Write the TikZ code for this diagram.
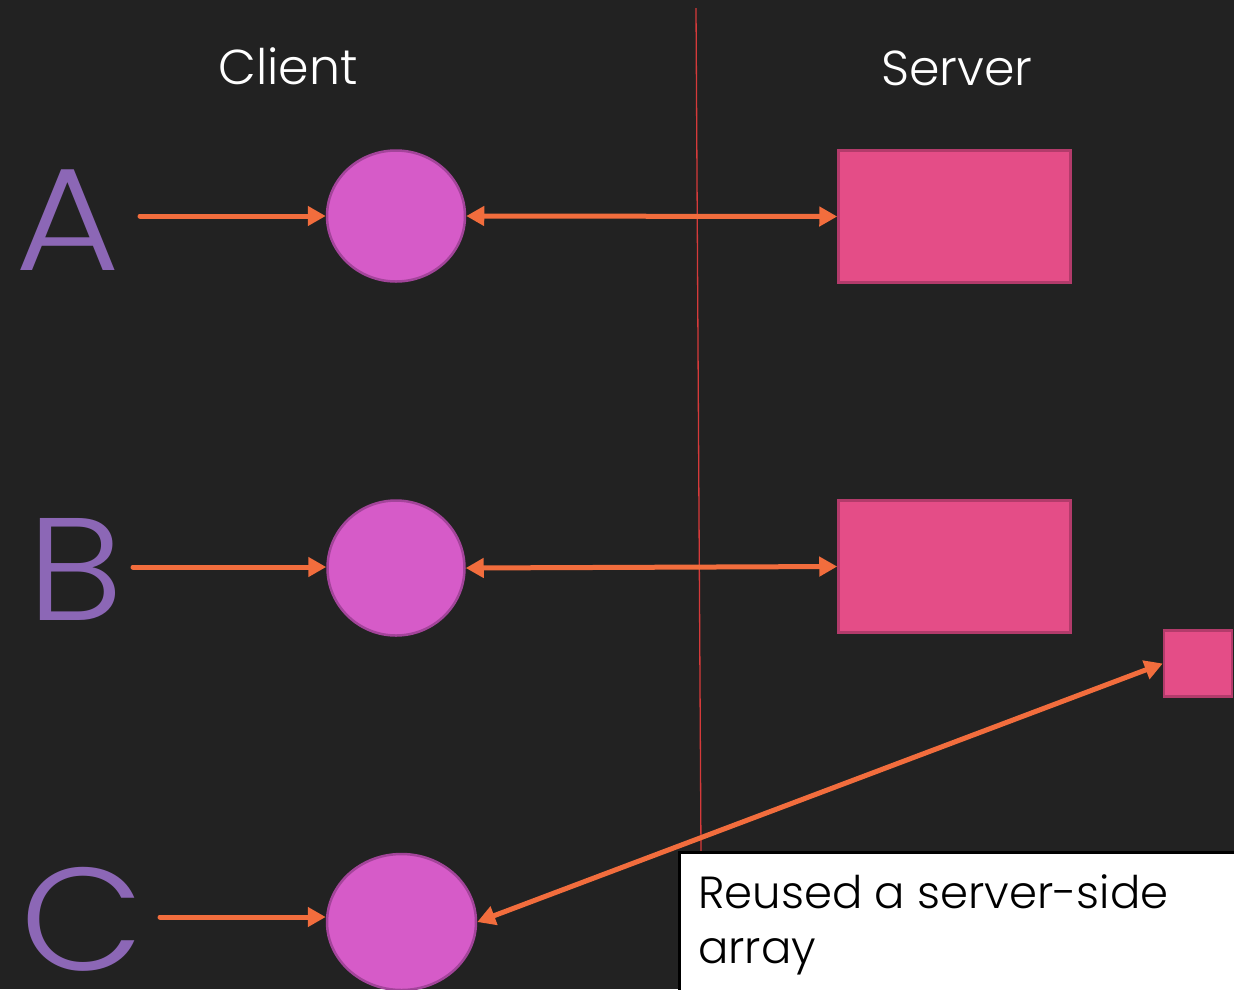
\documentclass[tikz,border=0pt]{standalone}
\usepackage{fontspec}
\setmainfont{Poppins}[UprightFont={* Light}]
\usetikzlibrary{arrows.meta,shapes.geometric}
\definecolor{bg}{HTML}{222222}
\definecolor{letter}{HTML}{8C67B6}
\definecolor{ballfill}{HTML}{D65BC8}
\definecolor{balledge}{HTML}{A3449A}
\definecolor{boxfill}{HTML}{E44D87}
\definecolor{boxedge}{HTML}{B33B6B}
\definecolor{link}{HTML}{F26D3D}
\definecolor{divider}{HTML}{D63A3A}
\tikzset{
  ball/.style={ellipse, fill=ballfill, draw=balledge, line width=2.5pt, inner sep=0pt},
  store/.style={rectangle, fill=boxfill, draw=boxedge, line width=2.5pt, inner sep=0pt},
  heading/.style={text=white, font=\fontsize{49}{52}\selectfont, inner sep=0pt},
  caselabel/.style={text=letter, font=\fontsize{146}{150}\selectfont, inner sep=0pt, xscale=1.1},
  flow/.style={draw=link, line width=5pt, line cap=round, -{Triangle[length=18pt,width=19pt]}},
  twoway/.style={draw=link, line width=5pt, {Triangle[length=18pt,width=19pt]}-{Triangle[length=18pt,width=19pt]}},
}
\begin{document}
\begin{tikzpicture}[x=1pt,y=-1pt]
  \fill[bg] (0,0) rectangle (1234,989);
  \useasboundingbox (0,0) rectangle (1234,989);

  % client / server split
  \coordinate (splittop) at (696,8);
  \coordinate (splitbot) at (701,852);
  \draw[divider, line width=1.3pt] (splittop) -- (splitbot);

  \node[heading] (client) at (288,66) {Client};
  \node[heading] (server) at (957,68) {Server};

  % case letters
  \node[caselabel] (la) at (68,220) {A};
  \node[caselabel] (lb) at (75,569) {B};
  \node[caselabel] (lc) at (82,919) {C};

  % client objects
  \node[ball, minimum width=138pt, minimum height=131pt] (ca) at (396,216) {};
  \node[ball, minimum width=137pt, minimum height=135pt] (cb) at (396,568) {};
  \node[ball, minimum width=149pt, minimum height=136pt] (cc) at (401.5,922) {};

  % server objects
  \node[store, minimum width=232pt, minimum height=132pt] (sa) at (954.5,216.5) {};
  \node[store, minimum width=232pt, minimum height=132pt] (sb) at (954.5,566.5) {};
  \node[store, minimum width=68pt, minimum height=66pt] (sc) at (1198,663.5) {};

  % incoming references
  \coordinate (ina) at (140,216);
  \coordinate (inb) at (133,567);
  \coordinate (inc) at (160,917);
  \draw[flow] (ina) -- (ina -| ca.west);
  \draw[flow] (inb) -- (inb -| cb.west);
  \draw[flow] (inc) -- (inc -| cc.west);

  % client <-> server links
  \draw[twoway] (ca.east) -- (sa.west);
  \draw[twoway] (cb.east) -- (sb.west);
  \draw[twoway] (cc.east) -- (sc.west);

  % note
  \draw[fill=white, draw=black, line width=3pt] (679,852) rectangle (1245,1000);
  \node[anchor=north west, align=left, text=black, inner sep=0pt,
        font=\fontsize{45}{55}\selectfont] (note) at (698,874)
        {Reused a server-side\\array};
\end{tikzpicture}
\end{document}
